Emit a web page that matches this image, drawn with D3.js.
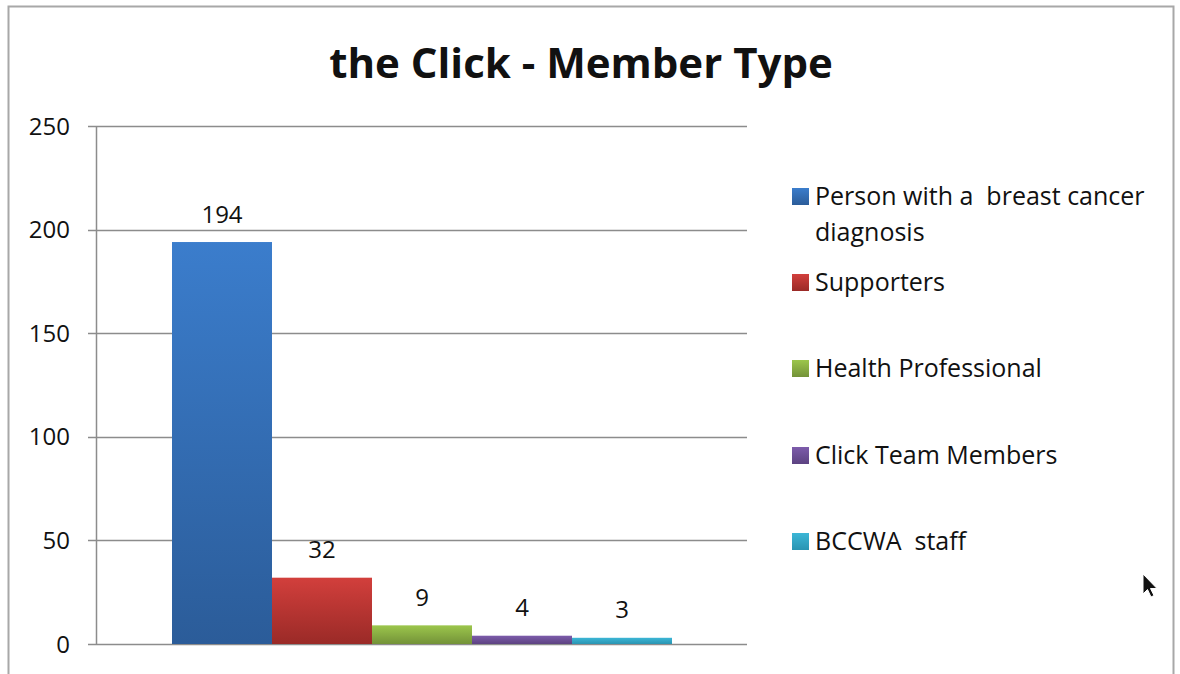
<!DOCTYPE html>
<html>
<head>
<meta charset="utf-8">
<script src="https://cdn.jsdelivr.net/npm/d3@7"></script>
<style>
  body { margin: 0; background: #fff; }
  text { font-family: "Open Sans", sans-serif; fill: #111; }
</style>
</head>
<body>
<div class="chart"></div>
<script>
// data
var categories = ["Person with a  breast cancer diagnosis", "Supporters", "Health Professional", "Click Team Members", "BCCWA  staff"];
var values = [194, 32, 9, 4, 3];
var yTicks = [0, 50, 100, 150, 200, 250];
var topColors = ["#3b7dcc", "#d23f3c", "#9cc64c", "#7d5cab", "#3cb6d6"];
var bottomColors = ["#2b5c99", "#9a2a27", "#739238", "#5c4281", "#2994b2"];

var svgWidth = 1180;
var svgHeight = 674;

var svg = d3.select(".chart")
  .append("svg")
  .attr("width", svgWidth)
  .attr("height", svgHeight);

// frame
svg.append("path")
  .attr("d", "M8.5,680 V6.5 H1173.5 V680")
  .attr("fill", "none")
  .attr("stroke", "#a8a8a8")
  .attr("stroke-width", 2);

var margin = { top: 126, left: 96 };
var width = 651;
var height = 518;

var g = svg.append("g")
  .attr("transform", `translate(${margin.left}, ${margin.top})`);

var yScale = d3.scaleLinear().domain([0, 250]).range([height, 0]);
var xScale = d3.scaleBand()
  .domain(categories)
  .range([76, width - 75]);

// gradients
var defs = svg.append("defs");
categories.forEach(function(c, i) {
  var grad = defs.append("linearGradient")
    .attr("id", "grad" + i)
    .attr("x1", 0).attr("y1", 0).attr("x2", 0).attr("y2", 1);
  grad.append("stop").attr("offset", "0%").attr("stop-color", topColors[i]);
  grad.append("stop").attr("offset", "100%").attr("stop-color", bottomColors[i]);
});

// gridlines
g.selectAll(".grid")
  .data(yTicks)
  .enter()
  .append("line")
  .attr("x1", -8)
  .attr("x2", width)
  .attr("y1", d => Math.round(yScale(d)) + 0.5)
  .attr("y2", d => Math.round(yScale(d)) + 0.5)
  .attr("stroke", "#8c8c8c")
  .attr("stroke-width", 1.5);

// y axis line
g.append("line")
  .attr("x1", 0.5).attr("x2", 0.5)
  .attr("y1", 0).attr("y2", height)
  .attr("stroke", "#8c8c8c")
  .attr("stroke-width", 1.5);

// tick labels
g.selectAll(".ytick")
  .data(yTicks)
  .enter()
  .append("text")
  .attr("x", -26)
  .attr("y", d => yScale(d))
  .attr("dy", "0.36em")
  .attr("text-anchor", "end")
  .style("font-size", "24px")
  .text(d => d);

// bars
g.selectAll(".bar")
  .data(values)
  .enter()
  .append("rect")
  .attr("x", (d, i) => xScale(categories[i]))
  .attr("y", d => yScale(d))
  .attr("width", xScale.bandwidth())
  .attr("height", d => height - yScale(d))
  .attr("fill", (d, i) => "url(#grad" + i + ")");

// value labels
g.selectAll(".vlabel")
  .data(values)
  .enter()
  .append("text")
  .attr("x", (d, i) => xScale(categories[i]) + xScale.bandwidth() / 2)
  .attr("y", d => yScale(d) - 28)
  .attr("dy", "0.36em")
  .attr("text-anchor", "middle")
  .style("font-size", "24px")
  .text(d => d);

// title
svg.append("text")
  .attr("x", 581)
  .attr("y", 78)
  .attr("text-anchor", "middle")
  .style("font-size", "42px")
  .style("font-weight", "bold")
  .text("the Click - Member Type");

// legend
var legendRows = [[196, 232], [282], [368], [455], [541]];
var legendLines = [["Person with a  breast cancer", "diagnosis"], ["Supporters"], ["Health Professional"], ["Click Team Members"], ["BCCWA  staff"]];
var legend = svg.append("g");
categories.forEach(function(c, i) {
  legend.append("rect")
    .attr("x", 792)
    .attr("y", legendRows[i][0] - 8)
    .attr("width", 17)
    .attr("height", 17)
    .attr("fill", "url(#grad" + i + ")");
  legendLines[i].forEach(function(line, j) {
    legend.append("text")
      .attr("x", 815)
      .attr("y", legendRows[i][j])
      .attr("dy", "0.36em")
      .style("font-size", "25px")
      .style("white-space", "pre")
      .attr("xml:space", "preserve")
      .text(line);
  });
});

// mouse pointer in the screenshot
svg.append("path")
  .attr("d", "M1143,574 L1143,594 L1147.5,589.5 L1151,597 L1154,595.5 L1150.5,588.5 L1157,588.5 Z")
  .attr("fill", "#111")
  .attr("stroke", "#fff")
  .attr("stroke-width", 1);
</script>
</body>
</html>
